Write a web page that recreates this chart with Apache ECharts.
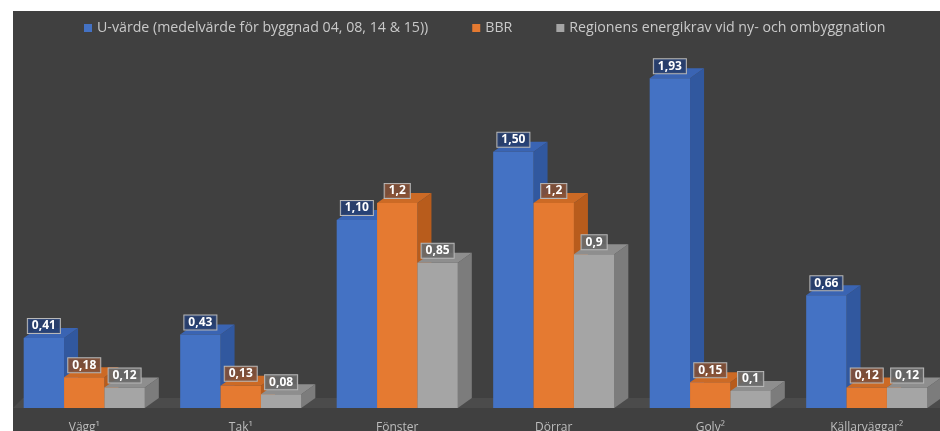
<!DOCTYPE html>
<html>
<head>
<meta charset="utf-8">
<script src="https://cdn.jsdelivr.net/npm/echarts@6/dist/echarts.min.js"></script>
<style>
  html, body { margin: 0; padding: 0; background: #fff; }
  #chart { position: absolute; left: 13px; top: 11px; width: 927px; height: 420px; background: #404040; }
</style>
</head>
<body>
<div id="chart"></div>
<script>
const categories = ['Vägg¹', 'Tak¹', 'Fönster', 'Dörrar', 'Golv²', 'Källarväggar²'];
const seriesNames = ['U-värde (medelvärde för byggnad 04, 08, 14 & 15))', 'BBR', 'Regionens energikrav vid ny- och ombyggnation'];
const uValues = [0.41, 0.43, 1.10, 1.50, 1.93, 0.66];
const bbrValues = [0.18, 0.13, 1.2, 1.2, 0.15, 0.12];
const regionValues = [0.12, 0.08, 0.85, 0.9, 0.1, 0.12];

// front / side / top / label box colours per series
const palette = [
  { front: '#4472c4', side: '#31589f', top: '#3a64b3', box: 'rgba(38,62,112,0.9)' },
  { front: '#e57a31', side: '#b85c1c', top: '#cc6a25', box: 'rgba(130,80,55,0.9)' },
  { front: '#a5a5a5', side: '#7c7c7c', top: '#8e8e8e', box: 'rgba(105,105,105,0.9)' }
];
const DX = 14, DY = -10;

const fmt = (v, idx) => (idx === 0 ? v.toFixed(2) : String(v)).replace('.', ',');

const makeSeries = (values, idx) => ({
  name: seriesNames[idx],
  type: 'custom',
  itemStyle: { color: palette[idx].front },
  data: values.map((v, i) => [i, v]),
  renderItem: (params, api) => {
    const cat = api.value(0), val = api.value(1);
    const base = api.coord([cat, 0]);
    const top = api.coord([cat, val]);
    const band = api.size([1, 0])[0];
    const w = band * 0.258;
    const x = base[0] - 1.5 * w + idx * w;
    const c = palette[idx];
    return {
      type: 'group',
      children: [
        { type: 'polygon', shape: { points: [[x + w, top[1]], [x + w + DX, top[1] + DY], [x + w + DX, base[1] + DY], [x + w, base[1]]] }, style: { fill: c.side } },
        { type: 'polygon', shape: { points: [[x, top[1]], [x + DX, top[1] + DY], [x + w + DX, top[1] + DY], [x + w, top[1]]] }, style: { fill: c.top } },
        { type: 'rect', shape: { x: x, y: top[1], width: w, height: base[1] - top[1] }, style: { fill: c.front } },
        {
          type: 'text', z2: 100,
          style: {
            text: fmt(val, idx), x: x + w / 2, y: top[1] - 5,
            align: 'center', verticalAlign: 'bottom',
            fill: '#fff', font: 'bold 12px "Open Sans"',
            backgroundColor: c.box, borderColor: '#b8b8b8', borderWidth: 1,
            padding: [1, 4]
          }
        }
      ]
    };
  }
});

const chart = echarts.init(document.getElementById('chart'));
chart.setOption({
  backgroundColor: '#404040',
  animation: false,
  legend: {
    top: 5,
    left: 66,
    icon: 'rect',
    itemWidth: 8,
    itemHeight: 8,
    itemGap: 44,
    data: seriesNames,
    textStyle: { color: '#c9c9c9', fontSize: 14.2, fontFamily: 'Open Sans' }
  },
  graphic: [{
    type: 'polygon', z: 0,
    shape: { points: [[0, 397], [10, 387], [927, 387], [927, 397]] },
    style: { fill: '#4b4b4b' }
  }],
  grid: { left: -7, right: -5, top: 21, bottom: 23, outerBoundsMode: 'none', containLabel: false },
  xAxis: {
    type: 'category',
    data: categories,
    axisLine: { show: false },
    axisTick: { show: false },
    axisLabel: { color: '#bdbdbd', fontSize: 12, fontFamily: 'Open Sans', margin: 14 }
  },
  yAxis: { type: 'value', min: 0, max: 2.2, show: false, splitLine: { show: false } },
  series: [makeSeries(uValues, 0), makeSeries(bbrValues, 1), makeSeries(regionValues, 2)]
});
</script>
</body>
</html>
